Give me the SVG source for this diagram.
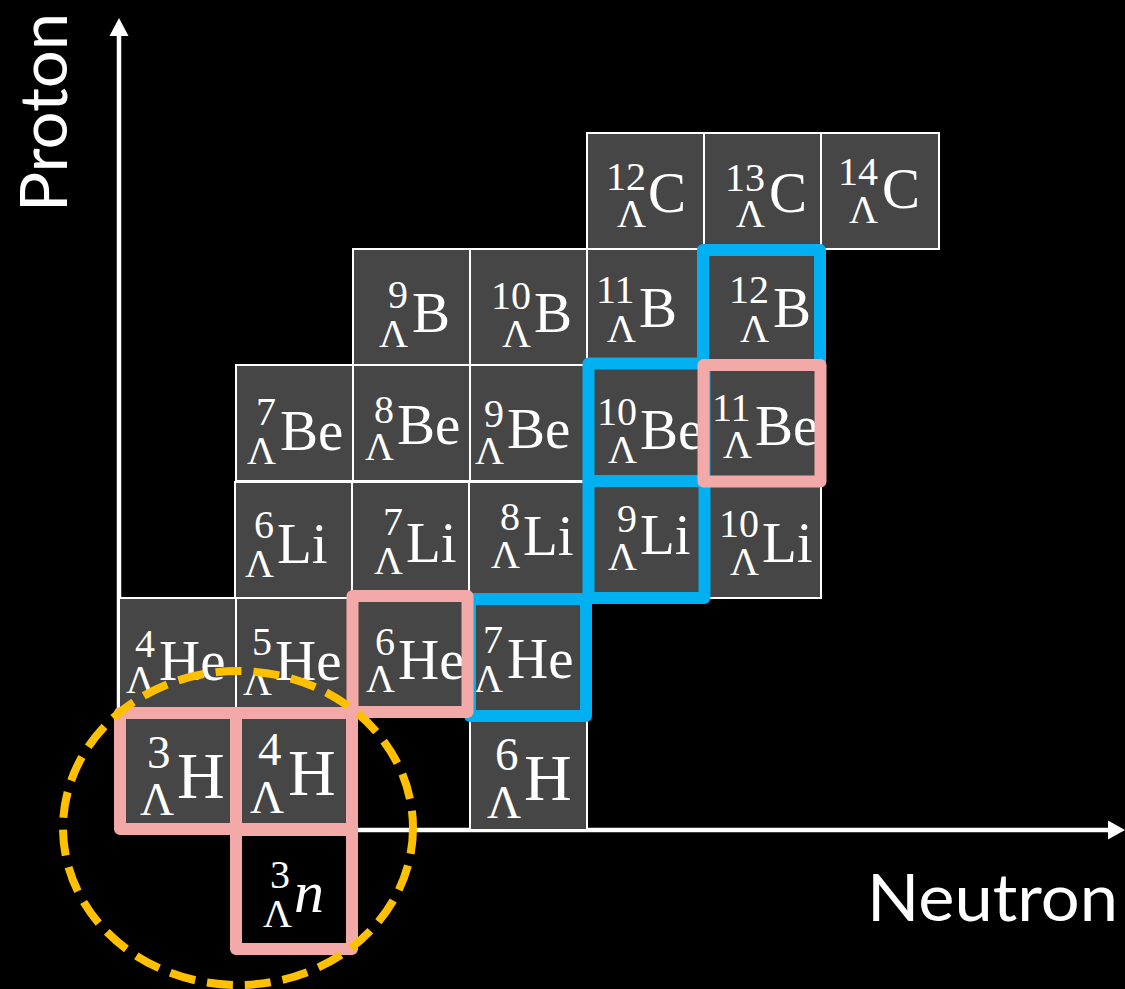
<svg xmlns="http://www.w3.org/2000/svg" width="1125" height="989" viewBox="0 0 1125 989">
<style>
.cell{fill:#464646;stroke:#FFFFFF;stroke-width:2}
.t{font-family:"Liberation Serif","DejaVu Serif",serif;fill:#FFFFFF}
.s{font-size:40px}
.m{font-size:57px}
.sL{font-size:47px}
.mL{font-size:66px}
.pink{fill:none;stroke:#F2A9A8;stroke-width:12;stroke-linejoin:round}
.blue{fill:none;stroke:#00B0F0;stroke-width:12;stroke-linejoin:round}
.ax{stroke:#FFFFFF;stroke-width:4.5;fill:none}
.lab{font-family:Lato,"Noto Sans","Liberation Sans",sans-serif;fill:#FFFFFF;font-size:66px}
</style>
<rect width="1125" height="989" fill="#000000"/>
<g id="connectors">
<line class="ax" x1="119" y1="832" x2="119" y2="34"/>
<polygon points="119,18 109.5,36 128.5,36" fill="#FFFFFF"/>
<line class="ax" x1="117" y1="830" x2="1110" y2="830"/>
<polygon points="1125,830 1108,820.5 1108,839.5" fill="#FFFFFF"/>
</g>
<g id="axis-labels">
<text class="lab" transform="translate(67,212) rotate(-90)" textLength="199" lengthAdjust="spacingAndGlyphs">Proton</text>
<text class="lab" x="867" y="921" textLength="251" lengthAdjust="spacingAndGlyphs">Neutron</text>
</g>
<g id="C12"><rect class="cell" x="587" y="133" width="117" height="116"/><text class="t"><tspan class="s" x="606" y="190">12</tspan><tspan class="s" x="617" y="227">Λ</tspan><tspan class="m" x="648" y="212">C</tspan></text></g>
<g id="C13"><rect class="cell" x="704" y="133" width="117" height="116"/><text class="t"><tspan class="s" x="725" y="191">13</tspan><tspan class="s" x="736" y="227">Λ</tspan><tspan class="m" x="769" y="212">C</tspan></text></g>
<g id="C14"><rect class="cell" x="821" y="133" width="118" height="116"/><text class="t"><tspan class="s" x="838" y="185">14</tspan><tspan class="s" x="849" y="223">Λ</tspan><tspan class="m" x="882" y="208">C</tspan></text></g>
<g id="B9"><rect class="cell" x="353" y="249" width="117" height="116"/><text class="t"><tspan class="s" x="388" y="308">9</tspan><tspan class="s" x="379" y="347">Λ</tspan><tspan class="m" x="412" y="332">B</tspan></text></g>
<g id="B10"><rect class="cell" x="470" y="249" width="117" height="116"/><text class="t"><tspan class="s" x="491" y="309">10</tspan><tspan class="s" x="502" y="347">Λ</tspan><tspan class="m" x="534" y="332">B</tspan></text></g>
<g id="B11"><rect class="cell" x="587" y="249" width="117" height="116"/><text class="t"><tspan class="s" x="596" y="303">11</tspan><tspan class="s" x="607" y="342">Λ</tspan><tspan class="m" x="639" y="327">B</tspan></text></g>
<g id="B12"><rect class="cell" x="704" y="249" width="117" height="116"/><text class="t"><tspan class="s" x="729" y="303">12</tspan><tspan class="s" x="740" y="342">Λ</tspan><tspan class="m" x="773" y="327">B</tspan></text></g>
<g id="Be7"><rect class="cell" x="236" y="365" width="117" height="116"/><text class="t"><tspan class="s" x="256" y="425">7</tspan><tspan class="s" x="247" y="464">Λ</tspan><tspan class="m" x="280" y="450">Be</tspan></text></g>
<g id="Be8"><rect class="cell" x="353" y="365" width="117" height="116"/><text class="t"><tspan class="s" x="374" y="423">8</tspan><tspan class="s" x="365" y="460">Λ</tspan><tspan class="m" x="397" y="444">Be</tspan></text></g>
<g id="Be9"><rect class="cell" x="470" y="365" width="117" height="116"/><text class="t"><tspan class="s" x="484" y="427">9</tspan><tspan class="s" x="475" y="464">Λ</tspan><tspan class="m" x="507" y="448">Be</tspan></text></g>
<g id="Be10"><rect class="cell" x="587" y="365" width="117" height="116"/><text class="t"><tspan class="s" x="597" y="425">10</tspan><tspan class="s" x="608" y="463">Λ</tspan><tspan class="m" x="640" y="449">Be</tspan></text></g>
<g id="Be11"><rect class="cell" x="704" y="365" width="117" height="116"/><text class="t"><tspan class="s" x="712" y="421">11</tspan><tspan class="s" x="723" y="458">Λ</tspan><tspan class="m" x="755" y="445">Be</tspan></text></g>
<g id="Li6"><rect class="cell" x="235" y="482" width="117" height="116"/><text class="t"><tspan class="s" x="254" y="538">6</tspan><tspan class="s" x="245" y="577">Λ</tspan><tspan class="m" x="277" y="563">Li</tspan></text></g>
<g id="Li7"><rect class="cell" x="352" y="482" width="117" height="116"/><text class="t"><tspan class="s" x="383" y="535">7</tspan><tspan class="s" x="374" y="574">Λ</tspan><tspan class="m" x="406" y="562">Li</tspan></text></g>
<g id="Li8"><rect class="cell" x="469" y="482" width="117" height="116"/><text class="t"><tspan class="s" x="500" y="530">8</tspan><tspan class="s" x="491" y="568">Λ</tspan><tspan class="m" x="523" y="555">Li</tspan></text></g>
<g id="Li9"><rect class="cell" x="587" y="482" width="117" height="116"/><text class="t"><tspan class="s" x="617" y="532">9</tspan><tspan class="s" x="608" y="570">Λ</tspan><tspan class="m" x="640" y="554">Li</tspan></text></g>
<g id="Li10"><rect class="cell" x="704" y="482" width="117" height="116"/><text class="t"><tspan class="s" x="719" y="537">10</tspan><tspan class="s" x="730" y="575">Λ</tspan><tspan class="m" x="762" y="562">Li</tspan></text></g>
<g id="He4"><rect class="cell" x="119" y="598" width="117" height="116"/><text class="t"><tspan class="s" x="135" y="657">4</tspan><tspan class="s" x="126" y="693">Λ</tspan><tspan class="m" x="159" y="680">He</tspan></text></g>
<g id="He5"><rect class="cell" x="236" y="598" width="117" height="116"/><text class="t"><tspan class="s" x="252" y="655">5</tspan><tspan class="s" x="243" y="695">Λ</tspan><tspan class="m" x="275" y="680">He</tspan></text></g>
<g id="He6"><rect class="cell" x="353" y="598" width="117" height="116"/><text class="t"><tspan class="s" x="375" y="655">6</tspan><tspan class="s" x="366" y="692">Λ</tspan><tspan class="m" x="398" y="679">He</tspan></text></g>
<g id="He7"><rect class="cell" x="470" y="598" width="117" height="116"/><text class="t"><tspan class="s" x="483" y="653">7</tspan><tspan class="s" x="474" y="692">Λ</tspan><tspan class="m" x="507" y="678">He</tspan></text></g>
<g id="H3"><rect class="cell" x="119" y="714" width="117" height="116"/><text class="t"><tspan class="sL" x="147" y="768">3</tspan><tspan class="sL" x="140" y="815">Λ</tspan><tspan class="mL" x="177" y="798">H</tspan></text></g>
<g id="H4"><rect class="cell" x="236" y="714" width="117" height="116"/><text class="t"><tspan class="sL" x="258" y="765">4</tspan><tspan class="sL" x="250" y="813">Λ</tspan><tspan class="mL" x="288" y="795">H</tspan></text></g>
<g id="H6"><rect class="cell" x="470" y="714" width="117" height="116"/><text class="t"><tspan class="sL" x="495" y="770">6</tspan><tspan class="sL" x="487" y="818">Λ</tspan><tspan class="mL" x="524" y="800">H</tspan></text></g>
<g id="n3"><rect x="236" y="830" width="116" height="119" fill="#000000"/><text class="t"><tspan class="s" x="270" y="888">3</tspan><tspan class="s" x="263" y="927">Λ</tspan><tspan x="294" y="912" font-size="60" font-style="italic">n</tspan></text></g>
<g id="highlight-blue">
<rect class="blue" x="703" y="250" width="117" height="115"/>
<rect class="blue" x="588.5" y="363.5" width="116" height="117.5"/>
<rect class="blue" x="588.5" y="481" width="116" height="117"/>
<rect class="blue" x="470" y="599" width="116" height="117"/>
</g>
<g id="highlight-pink">
<rect class="pink" x="120" y="713" width="116" height="116"/>
<rect class="pink" x="236" y="713" width="116" height="116"/>
<rect class="pink" x="236" y="830" width="116" height="119"/>
<rect class="pink" x="352.5" y="596" width="115" height="116"/>
<rect class="pink" x="703.5" y="365" width="117" height="116.5"/>
</g>
<g id="region-circle">
<ellipse cx="238" cy="828" rx="175" ry="157" fill="none" stroke="#FFC000" stroke-width="8" stroke-dasharray="26 12"/>
</g>
</svg>
